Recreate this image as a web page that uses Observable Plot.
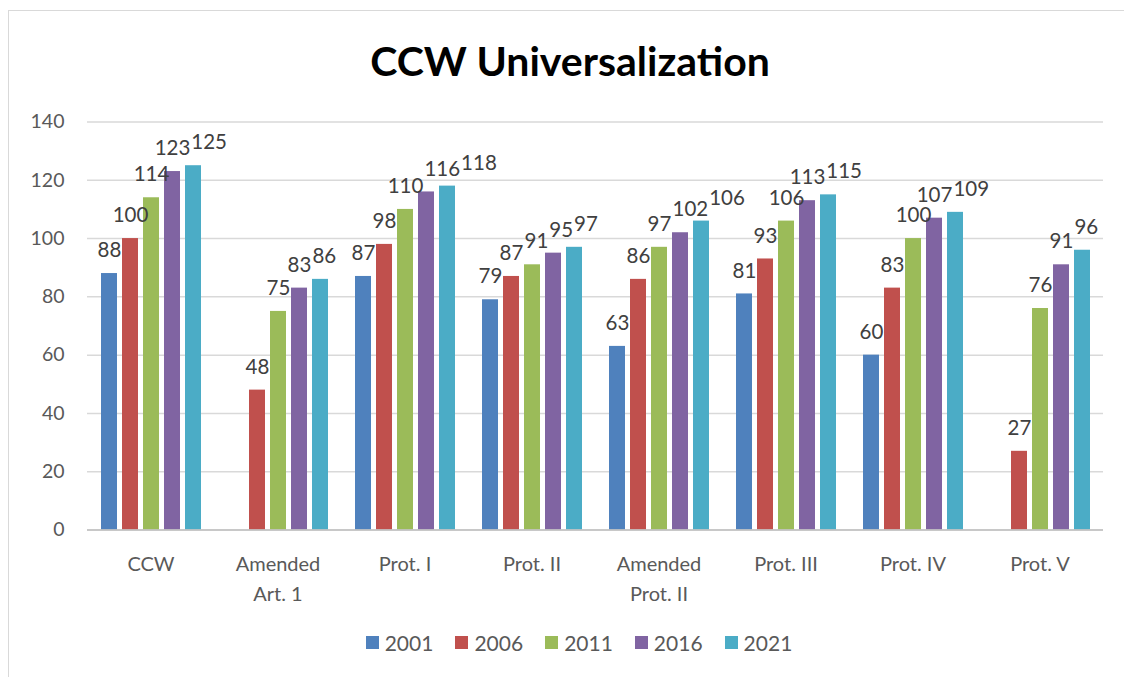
<!DOCTYPE html>
<html>
<head>
<meta charset="utf-8">
<script src="https://cdn.jsdelivr.net/npm/d3@7"></script>
<script src="https://cdn.jsdelivr.net/npm/@observablehq/plot@0.6"></script>
<style>
  html, body { margin: 0; padding: 0; background: #fff; }
  body { width: 1124px; height: 677px; position: relative; overflow: hidden; font-family: Lato, "Open Sans", sans-serif; }
  #frame { position: absolute; left: 8px; top: 10px; width: 1200px; height: 800px; border-left: 1.5px solid #d9d9d9; border-top: 1.5px solid #d9d9d9; }
  #title { position: absolute; left: 0; width: 1140px; top: 35px; text-align: center; font-size: 41px; font-weight: bold; color: #000; line-height: 52px; }
  #chart { position: absolute; left: 0; top: 0; }
  #legend { position: absolute; top: 630px; left: 0; width: 1158px; display: flex; justify-content: center; gap: 22px; font-size: 21px; color: #595959; }
  .item { display: flex; align-items: center; gap: 6px; }
  .sw { width: 13px; height: 13px; display: inline-block; }
</style>
</head>
<body>
<div id="frame"></div>
<div id="title">CCW Universalization</div>
<div id="chart"></div>
<div id="legend"></div>
<script>
const categories = ["CCW", "Amended Art. 1", "Prot. I", "Prot. II", "Amended Prot. II", "Prot. III", "Prot. IV", "Prot. V"];
const tickLabels = ["CCW", "Amended\nArt. 1", "Prot. I", "Prot. II", "Amended\nProt. II", "Prot. III", "Prot. IV", "Prot. V"];
const years = ["2001", "2006", "2011", "2016", "2021"];
const colors = ["#4F81BD", "#C0504D", "#9BBB59", "#8064A2", "#4BACC6"];
const v2001 = [88, null, 87, 79, 63, 81, 60, null];
const v2006 = [100, 48, 98, 87, 86, 93, 83, 27];
const v2011 = [114, 75, 110, 91, 97, 106, 100, 76];
const v2016 = [123, 83, 116, 95, 102, 113, 107, 91];
const v2021 = [125, 86, 118, 97, 106, 115, 109, 96];
const yTicks = [0, 20, 40, 60, 80, 100, 120, 140];

const series = [v2001, v2006, v2011, v2016, v2021];
const data = [];
categories.forEach((c, i) => {
  years.forEach((yr, j) => {
    const v = series[j][i];
    if (v != null) data.push({cat: c, year: yr, value: v});
  });
});
const labelOf = new Map(categories.map((c, i) => [c, tickLabels[i]]));

const chart = Plot.plot({
  width: 1124,
  height: 610,
  marginLeft: 85,
  marginRight: 19,
  marginTop: 121.5,
  marginBottom: 80.5,
  style: {fontFamily: "Lato, 'Open Sans', sans-serif", background: "transparent"},
  fx: {domain: categories, padding: 0, axis: null},
  x: {domain: years, paddingInner: 0.25, paddingOuter: 0.52, axis: null},
  y: {domain: [0, 140], axis: null},
  color: {domain: years, range: colors},
  marks: [
    Plot.gridY(yTicks, {stroke: "#d9d9d9", strokeOpacity: 1, strokeWidth: 1.5}),
    Plot.axisY(yTicks, {anchor: "left", tickSize: 0, tickPadding: 23, fontSize: 19.5, fill: "#595959", label: null, facetAnchor: "left"}),
    Plot.axisFx({anchor: "bottom", tickSize: 0, tickPadding: 20, fontSize: 20, fill: "#595959", label: null, tickFormat: d => labelOf.get(d), lineHeight: 1.5}),
    Plot.barY(data, {fx: "cat", x: "year", y: "value", fill: "year"}),
    Plot.ruleY([0], {stroke: "#bfbfbf", strokeWidth: 1.5}),
    Plot.text(data, {fx: "cat", x: "year", y: "value", text: d => String(d.value), dy: -23, fontSize: 20.5, fill: "#404040"})
  ]
});
document.getElementById("chart").appendChild(chart);

// Avoid label collisions within each group: nudge a label to the right when it overlaps its left neighbour.
const groups = new Map();
chart.querySelectorAll('g[aria-label="text"] text').forEach(t => {
  const p = t.parentNode;
  if (!groups.has(p)) groups.set(p, []);
  groups.get(p).push(t);
});
for (const texts of groups.values()) {
  const items = texts.map(t => {
    const r = t.getBoundingClientRect();
    return {t, x: r.left, y: r.top, w: r.width, h: r.height, shift: 0};
  }).sort((a, b) => a.x - b.x);
  for (let i = 1; i < items.length; i++) {
    const prev = items[i - 1], cur = items[i];
    const px = prev.x + prev.shift;
    const vOverlap = cur.y < prev.y + prev.h - 4 && prev.y < cur.y + cur.h - 4;
    const gap = px + prev.w - cur.x;
    if (vOverlap && gap > -1) {
      cur.shift = gap + 1;
      cur.t.setAttribute("dx", cur.shift);
    }
  }
}

const legend = document.getElementById("legend");
years.forEach((yr, j) => {
  const it = document.createElement("div");
  it.className = "item";
  const sw = document.createElement("span");
  sw.className = "sw";
  sw.style.background = colors[j];
  const t = document.createElement("span");
  t.textContent = yr;
  it.appendChild(sw); it.appendChild(t);
  legend.appendChild(it);
});
</script>
</body>
</html>
